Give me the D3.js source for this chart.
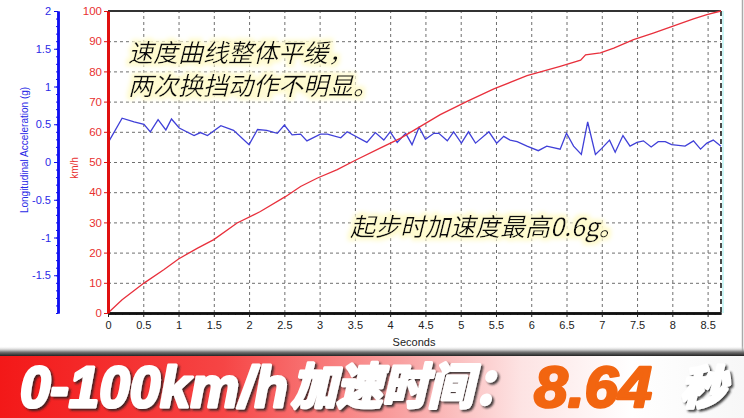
<!DOCTYPE html>
<html><head><meta charset="utf-8">
<script src="https://cdn.jsdelivr.net/npm/d3@7"></script>
<style>body{margin:0;background:#fff}svg{display:block}</style>
</head><body>
<svg id="c" width="744" height="418"></svg>
<script>
// ---- data ----
const accelT = [0.01,0.20,0.37,0.51,0.60,0.71,0.82,0.90,1.01,1.22,1.31,1.41,1.60,1.78,2.00,2.12,2.25,2.40,2.50,2.61,2.73,2.82,3.01,3.11,3.30,3.39,3.67,3.79,3.91,4.00,4.10,4.22,4.31,4.41,4.50,4.62,4.69,4.81,4.90,5.01,5.11,5.21,5.40,5.51,5.61,5.70,5.80,5.94,6.10,6.22,6.41,6.50,6.60,6.71,6.80,6.91,7.00,7.11,7.19,7.30,7.40,7.50,7.59,7.70,7.80,7.90,7.99,8.18,8.30,8.40,8.49,8.58,8.69];
const accelG = [0.27,0.58,0.53,0.50,0.40,0.56,0.425,0.57,0.45,0.35,0.39,0.35,0.48,0.42,0.23,0.43,0.42,0.38,0.49,0.36,0.37,0.28,0.37,0.37,0.32,0.40,0.26,0.39,0.29,0.40,0.26,0.38,0.23,0.46,0.30,0.38,0.38,0.28,0.40,0.25,0.40,0.25,0.40,0.25,0.34,0.29,0.27,0.21,0.15,0.21,0.17,0.38,0.21,0.10,0.53,0.10,0.18,0.29,0.13,0.35,0.21,0.26,0.28,0.20,0.27,0.27,0.23,0.21,0.28,0.17,0.25,0.29,0.21];
const speedT = [0,0.20,0.51,0.79,1.00,1.27,1.50,1.83,2.16,2.52,2.73,2.97,3.25,3.50,3.85,4.15,4.43,4.71,5.09,5.47,5.94,6.41,6.70,6.77,6.98,7.17,7.45,7.73,8.02,8.30,8.49,8.69];
const speedV = [0,4.4,9.9,14.3,17.9,21.5,24.3,29.8,33.6,38.6,41.9,44.7,47.5,50.5,54.5,57.9,61.8,65.7,70.1,74.2,78.6,81.7,83.7,85.5,86.1,87.7,90.5,92.7,95.1,97.4,98.8,100];
const xTickLabels = [0,0.5,1,1.5,2,2.5,3,3.5,4,4.5,5,5.5,6,6.5,7,7.5,8,8.5];
const gTickLabels = [2,1.5,1,0.5,0,-0.5,-1,-1.5];
const vTickLabels = [0,10,20,30,40,50,60,70,80,90,100];
const notes = ["速度曲线整体平缓，","两次换挡动作不明显。","起步时加速度最高0.6g。"];

// ---- setup ----
const svg = d3.select("#c");
const W = 744, H = 418;
const x = d3.scaleLinear().domain([0, 8.69]).range([108, 721]);
const yV = d3.scaleLinear().domain([0, 100]).range([313, 11]);
const yG = d3.scaleLinear().domain([-2, 2]).range([313, 11]);
const FONT = "'Liberation Sans', Arial, sans-serif";
const CJK = "'Noto Sans CJK SC', 'Noto Sans', sans-serif";

const defs = svg.append("defs");
const grad = defs.append("linearGradient").attr("id","bg").attr("x1","0").attr("x2","1").attr("y1","0").attr("y2","0");
[[0,"#f31818"],[0.3,"#f64545"],[0.55,"#f9a5a5"],[0.7,"#fde3e3"],[0.85,"#ffffff"],[1,"#f7f7f7"]]
  .forEach(s=>grad.append("stop").attr("offset",s[0]).attr("stop-color",s[1]));
const sh = defs.append("linearGradient").attr("id","sh").attr("x1","0").attr("x2","0").attr("y1","0").attr("y2","1");
[[0,"#ffffff",0],[0.6,"#777",1],[1,"#222",1]].forEach(s=>sh.append("stop").attr("offset",s[0]).attr("stop-color",s[1]).attr("stop-opacity",s[2]));
const f = defs.append("filter").attr("id","ds").attr("x","-10%").attr("y","-10%").attr("width","130%").attr("height","130%");
f.append("feDropShadow").attr("dx",2).attr("dy",2).attr("stdDeviation",1.2).attr("flood-color","#222").attr("flood-opacity",0.85);
const glow = defs.append("filter").attr("id","glow").attr("x","-5%").attr("y","-20%").attr("width","110%").attr("height","140%");
glow.append("feMorphology").attr("in","SourceAlpha").attr("operator","dilate").attr("radius",3).attr("result","d");
glow.append("feGaussianBlur").attr("in","d").attr("stdDeviation",2).attr("result","b");
glow.append("feFlood").attr("flood-color","#fffbcf").attr("result","c");
glow.append("feComposite").attr("in","c").attr("in2","b").attr("operator","in").attr("result","g");
const gm = glow.append("feMerge"); gm.append("feMergeNode").attr("in","g"); gm.append("feMergeNode").attr("in","SourceGraphic");

svg.append("rect").attr("width",W).attr("height",H).attr("fill","#fff");
// outer frame
svg.append("line").attr("x1",742.5).attr("x2",742.5).attr("y1",0).attr("y2",352).attr("stroke","#aaa").attr("stroke-width",1.5);
svg.append("rect").attr("x",0).attr("y",346).attr("width",W).attr("height",10).attr("fill","url(#sh)");

// grid via axes
const gridV = svg.append("g").attr("transform",`translate(0,${yV(0)})`)
  .call(d3.axisBottom(x).tickValues(xTickLabels.filter(d=>d>0)).tickSize(-(yV(0)-yV(100))).tickFormat(""));
const gridH = svg.append("g").attr("transform",`translate(${x(0)},0)`)
  .call(d3.axisLeft(yV).tickValues(vTickLabels.filter(d=>d>0&&d<100)).tickSize(-(x(8.69)-x(0))).tickFormat(""));
[gridV, gridH].forEach(g=>{
  g.select(".domain").remove();
  g.selectAll(".tick line").attr("stroke","#6f6f6f").attr("stroke-opacity",1).attr("stroke-width",1).attr("stroke-dasharray","3 3");
});

// frame top and right
svg.append("line").attr("x1",x(0)).attr("x2",x(8.69)).attr("y1",yV(100)).attr("y2",yV(100)).attr("stroke","#333").attr("stroke-width",2);
svg.append("line").attr("x1",x(8.69)+2).attr("x2",x(8.69)+2).attr("y1",yV(100)).attr("y2",yV(0)).attr("stroke","#bdf4f4").attr("stroke-width",1.5);
svg.append("line").attr("x1",x(8.69)).attr("x2",x(8.69)).attr("y1",yV(100)).attr("y2",yV(0)).attr("stroke","#111").attr("stroke-width",1.5).attr("stroke-dasharray","5,3");

// lines
const accel = accelT.map((t,i)=>[t,accelG[i]]);
const speed = speedT.map((t,i)=>[t,speedV[i]]);
svg.append("path").datum(accel).attr("fill","none").attr("stroke","#4040d8").attr("stroke-width",1.3)
  .attr("d",d3.line().x(d=>x(d[0])).y(d=>yG(d[1])));
svg.append("path").datum(speed).attr("fill","none").attr("stroke","#e8303c").attr("stroke-width",1.3)
  .attr("d",d3.line().x(d=>x(d[0])).y(d=>yV(d[1])));

// x axis
const xa = svg.append("g").attr("transform",`translate(0,${yV(0)})`);
xa.call(d3.axisBottom(x).tickValues(d3.range(0,87).map(i=>i/10)).tickSize(2).tickSizeOuter(0).tickFormat(""));
xa.append("g").call(d3.axisBottom(x).tickValues(xTickLabels).tickSize(4).tickSizeOuter(0).tickFormat(d=>String(d)));
xa.selectAll("path.domain").attr("stroke","#111").attr("stroke-width",2.5);
xa.selectAll("line").attr("stroke","#222");
xa.selectAll("text").attr("font-family",FONT).attr("font-size",11).attr("fill","#222").attr("dy","0.8em");
svg.append("text").attr("x",414).attr("y",346).attr("text-anchor","middle").attr("font-family",FONT).attr("font-size",11).attr("fill","#222").text("Seconds");

// blue axis
const ga = svg.append("g").attr("transform","translate(58,0)");
ga.call(d3.axisLeft(yG).tickValues(d3.range(-20,21).map(i=>i/10)).tickSize(2).tickSizeOuter(0).tickFormat(""));
ga.append("g").call(d3.axisLeft(yG).tickValues(gTickLabels).tickSize(4).tickSizeOuter(0).tickFormat(d=>String(d)));
ga.selectAll("path.domain").attr("stroke","#1010f0").attr("stroke-width",2.5);
ga.selectAll("line").attr("stroke","#1010f0");
ga.selectAll("text").attr("font-family",FONT).attr("font-size",11).attr("fill","#2a2ae6").attr("x",-7);
svg.append("text").attr("transform","translate(24,150) rotate(-90)").attr("text-anchor","middle").attr("dy","0.35em")
  .attr("font-family",FONT).attr("font-size",10).attr("fill","#2a2ae6").text("Longitudinal Acceleration (g)");

// red axis
const va = svg.append("g").attr("transform",`translate(${x(0)},0)`);
va.call(d3.axisLeft(yV).tickValues(vTickLabels).tickSize(4).tickSizeOuter(0).tickFormat(d=>String(d)));
va.selectAll("path.domain").attr("stroke","#e01010").attr("stroke-width",3);
va.selectAll("line").attr("stroke","#e01010");
va.selectAll("text").attr("font-family",FONT).attr("font-size",11.5).attr("fill","#e83030").attr("x",-6);
svg.append("text").attr("transform","translate(74,168) rotate(-90)").attr("text-anchor","middle").attr("dy","0.35em")
  .attr("font-family",FONT).attr("font-size",10).attr("fill","#e83030").text("km/h");

// annotations
const ann = svg.append("g").attr("font-family",CJK).attr("font-size",25).attr("font-style","italic").attr("fill","#111").attr("filter","url(#glow)");
ann.append("text").attr("x",128).attr("y",62).text(notes[0]);
ann.append("text").attr("x",128).attr("y",95).text(notes[1]);
ann.append("text").attr("x",350).attr("y",236).text(notes[2]);

// banner
svg.append("rect").attr("x",0).attr("y",356).attr("width",W).attr("height",62).attr("fill","url(#bg)");
const bn = svg.append("g").attr("font-style","italic").attr("font-weight","bold");
bn.append("text").attr("x",20).attr("y",407).attr("font-family",FONT)
  .attr("font-size",57).attr("fill","#fff").attr("stroke","#fff").attr("stroke-width",3).attr("stroke-linejoin","round").attr("filter","url(#ds)")
  .attr("textLength",268).attr("lengthAdjust","spacingAndGlyphs").text("0-100km/h");
bn.append("text").attr("x",291).attr("y",404).attr("font-family",CJK)
  .attr("font-size",49).attr("fill","#fff").attr("stroke","#fff").attr("stroke-width",3.5).attr("stroke-linejoin","round").attr("filter","url(#ds)")
  .attr("textLength",228).attr("lengthAdjust","spacingAndGlyphs").text("加速时间：");
bn.append("text").attr("x",534).attr("y",407).attr("font-family",FONT)
  .attr("font-size",58).attr("fill","#f26510").attr("stroke","#f26510").attr("stroke-width",2.5).attr("stroke-linejoin","round")
  .attr("textLength",118).attr("lengthAdjust","spacingAndGlyphs").text("8.64");
bn.append("text").attr("x",680).attr("y",404).attr("font-family",CJK)
  .attr("font-size",46).attr("fill","#fff").attr("stroke","#fff").attr("stroke-width",3.5).attr("stroke-linejoin","round").attr("filter","url(#ds)")
  .attr("textLength",46).attr("lengthAdjust","spacingAndGlyphs").text("秒");
</script>
</body></html>
